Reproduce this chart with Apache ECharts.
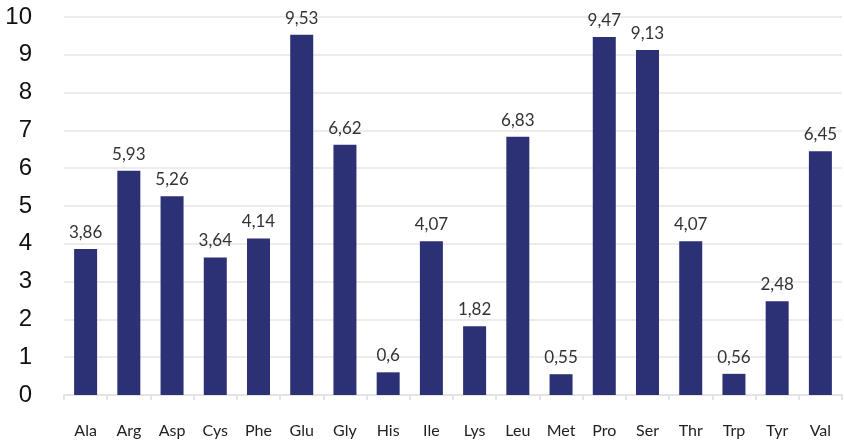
<!DOCTYPE html>
<html>
<head>
<meta charset="utf-8">
<script src="https://cdn.jsdelivr.net/npm/echarts@6/dist/echarts.min.js"></script>
<style>
  html, body { margin: 0; padding: 0; background: #ffffff; }
  #chart { width: 844px; height: 441px; }
</style>
</head>
<body>
<div id="chart"></div>
<script>
// Amino acid content per residue
const aminoAcids = ['Ala', 'Arg', 'Asp', 'Cys', 'Phe', 'Glu', 'Gly', 'His', 'Ile', 'Lys', 'Leu', 'Met', 'Pro', 'Ser', 'Thr', 'Trp', 'Tyr', 'Val'];
const contents = [3.86, 5.93, 5.26, 3.64, 4.14, 9.53, 6.62, 0.6, 4.07, 1.82, 6.83, 0.55, 9.47, 9.13, 4.07, 0.56, 2.48, 6.45];
const yTicks = [0, 1, 2, 3, 4, 5, 6, 7, 8, 9, 10];

const chart = echarts.init(document.getElementById('chart'));

chart.setOption({
  animation: false,
  grid: { left: 64, right: 2, top: 17, bottom: 46 },
  xAxis: {
    type: 'category',
    data: aminoAcids,
    axisLine: { lineStyle: { color: '#e4e4e4', width: 2 } },
    axisTick: { show: true, length: 5, lineStyle: { color: '#e4e4e4', width: 2 } },
    axisLabel: {
      color: '#222222',
      fontFamily: 'Lato',
      fontSize: 16,
      margin: 28
    }
  },
  yAxis: {
    type: 'value',
    min: yTicks[0],
    max: yTicks[yTicks.length - 1],
    interval: 1,
    axisLine: { show: false },
    axisTick: { show: false },
    axisLabel: {
      color: '#111111',
      fontFamily: 'Liberation Sans',
      fontSize: 24,
      margin: 32
    },
    splitLine: { lineStyle: { color: '#ececec', width: 2 } }
  },
  series: [{
    type: 'bar',
    data: contents,
    barWidth: 23,
    itemStyle: { color: '#2c3176' },
    label: {
      show: true,
      position: 'top',
      distance: 8,
      color: '#333333',
      fontFamily: 'Lato',
      fontSize: 17,
      formatter: p => String(p.value).replace('.', ',')
    }
  }]
});
</script>
</body>
</html>
